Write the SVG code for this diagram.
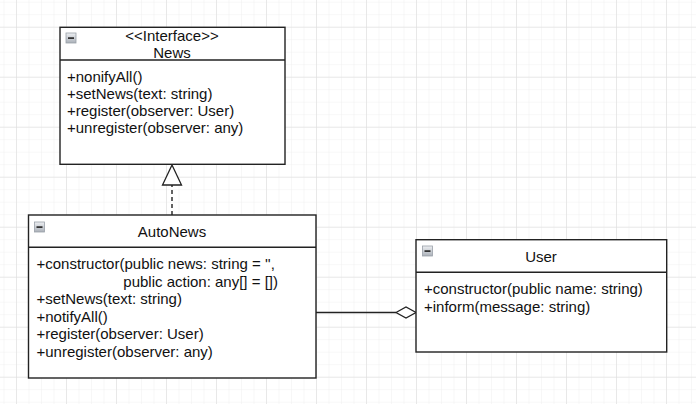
<svg xmlns="http://www.w3.org/2000/svg" width="696" height="404" viewBox="0 0 696 404">
<defs>
<pattern id="minor" width="12.5" height="12.5" patternUnits="userSpaceOnUse" patternTransform="translate(3.5 1.7)">
<path d="M0 0V12.5M0 0H12.5" fill="none" stroke="#efefef" stroke-width="1"/>
</pattern>
<pattern id="major" width="50" height="50" patternUnits="userSpaceOnUse" patternTransform="translate(16 26.7)">
<path d="M0 0V50M0 0H50" fill="none" stroke="#dadada" stroke-width="1"/>
</pattern>
<linearGradient id="ig" x1="0" y1="0" x2="0" y2="1">
<stop offset="0" stop-color="#eef0f3"/>
<stop offset="1" stop-color="#aab0b8"/>
</linearGradient>
<g id="icon">
<rect x="0" y="0" width="10" height="10" fill="url(#ig)" stroke="#9aa0a8" stroke-width="0.8"/>
<rect x="2" y="4.3" width="6" height="1.6" fill="#222"/>
</g>
</defs>
<style>
.box{fill:#fff;stroke:#222;stroke-width:1.4}
.sep{stroke:#222;stroke-width:1.4;fill:none}
.t{font-family:"Liberation Sans",Arial,sans-serif;font-size:15px;fill:#111}
.c{text-anchor:middle}
.ln{fill:none;stroke:#222;stroke-width:1.4}
</style>
<rect width="696" height="404" fill="#fff"/>
<rect width="696" height="404" fill="url(#minor)"/>
<rect width="696" height="404" fill="url(#major)"/>

<g id="connectors">
<path class="ln" d="M172 215V185" stroke-dasharray="4 3"/>
<path d="M172 165L181.5 185H162.5Z" fill="#fff" stroke="#222" stroke-width="1.3"/>
<path class="ln" d="M316 312.5H396"/>
<path d="M396 312.5L406 307L416 312.5L406 318Z" fill="#fff" stroke="#222" stroke-width="1.3"/>
</g>

<g id="News">
<rect class="box" x="60" y="27.3" width="225" height="137"/>
<path class="sep" d="M60 60H285"/>
<use href="#icon" x="66" y="33"/>
<text class="t c" x="172" y="41">&lt;&lt;Interface&gt;&gt;</text>
<text class="t c" x="172" y="58">News</text>
<text class="t" x="67" y="82">+nonifyAll()</text>
<text class="t" x="67" y="99">+setNews(text: string)</text>
<text class="t" x="67" y="116">+register(observer: User)</text>
<text class="t" x="67" y="133">+unregister(observer: any)</text>
</g>

<g id="AutoNews">
<rect class="box" x="28.5" y="215" width="287.5" height="163"/>
<path class="sep" d="M28.5 247.3H316"/>
<use href="#icon" x="34.5" y="222"/>
<text class="t c" x="172" y="237">AutoNews</text>
<text class="t" x="36.5" y="269">+constructor(public news: string = '',</text>
<text class="t" x="123.3" y="287">public action: any[] = [])</text>
<text class="t" x="36.5" y="304">+setNews(text: string)</text>
<text class="t" x="36.5" y="322">+notifyAll()</text>
<text class="t" x="36.5" y="339">+register(observer: User)</text>
<text class="t" x="36.5" y="357">+unregister(observer: any)</text>
</g>

<g id="User">
<rect class="box" x="416" y="239.7" width="250.7" height="112.3"/>
<path class="sep" d="M416 272.3H666.7"/>
<use href="#icon" x="422.5" y="246"/>
<text class="t c" x="541" y="262">User</text>
<text class="t" x="424" y="294">+constructor(public name: string)</text>
<text class="t" x="424" y="311.5">+inform(message: string)</text>
</g>
</svg>
